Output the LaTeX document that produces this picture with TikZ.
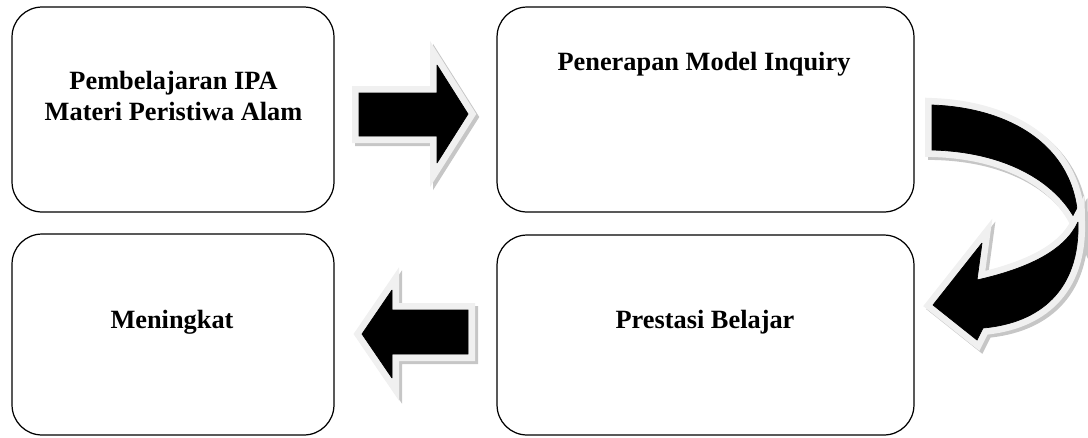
\documentclass[tikz,border=0pt]{standalone}
\usepackage{fontspec}
\setmainfont{Liberation Serif}
\usepackage{tikz}

\begin{document}
\begin{tikzpicture}
[x=0.02cm,y=-0.02cm,
box/.style={draw,line width=0.7pt,rounded corners=0.6cm},
lbl/.style={font=\fontsize{15}{18}\selectfont\bfseries,align=center,anchor=base,inner sep=0pt},
blk/.style={fill=black,line join=miter,miter limit=2,
  preaction={draw=gray!45,line width=0.28cm,transform canvas={shift={(0.06cm,-0.06cm)}}},
  preaction={draw=gray!12,line width=0.28cm}}]
\useasboundingbox (0,0) rectangle (1088,437);
\node[box,minimum width=6.44cm,minimum height=4.1cm] (b1) at (173,109.5) {};
\node[box,minimum width=8.34cm,minimum height=4.1cm] (b2) at (705.5,109.5) {};
\node[box,minimum width=8.34cm,minimum height=4cm] (b3) at (705.5,335) {};
\node[box,minimum width=6.44cm,minimum height=4.02cm] (b4) at (173,334.5) {};
\node[lbl] (t1) at (173.5,120.7) {Pembelajaran IPA\\Materi Peristiwa Alam};
\node[lbl] (t2) at (704,70) {Penerapan Model Inquiry};
\node[lbl] (t3) at (705,328) {Prestasi Belajar};
\node[lbl] (t4) at (172,328) {Meningkat};
% block arrows
\draw[blk] (359,93) -- (437,93) -- (437,65) -- (468,114) -- (437,163) -- (437,136) -- (359,136) -- cycle;
\draw[blk] (932,105) .. controls (1015,108) and (1078,150) .. (1078,225)
  .. controls (1060,185) and (1010,152) .. (932,150) -- cycle;
\draw[blk] (1078,222) .. controls (1080,290) and (1040,323) .. (983,328) -- (977,340) -- (933,305)
  -- (982,243) -- (977,280) .. controls (1030,268) and (1065,250) .. (1078,222) -- cycle;
\draw[blk] (468,310) -- (392,310) -- (392,290) -- (362,334) -- (392,378) -- (392,354) -- (468,354) -- cycle;
\end{tikzpicture}
\end{document}
